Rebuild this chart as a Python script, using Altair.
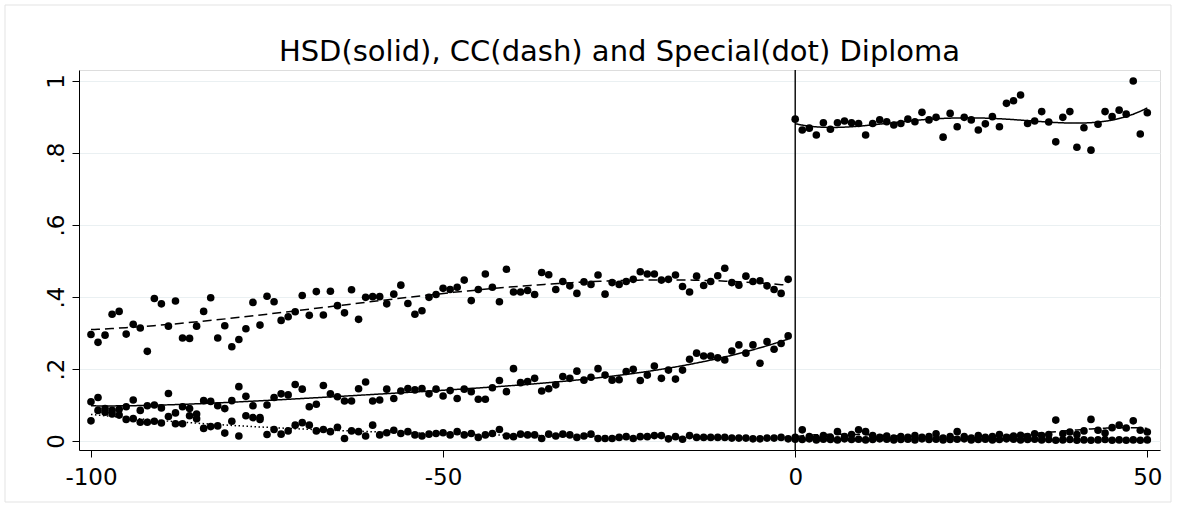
import altair as alt
import pandas as pd

# Running variable: left of the cutoff (-100..-1) and right of it (0..50)
x_left = list(range(-100, 0))
x_right = list(range(0, 51))

# Share with a high-school diploma (solid fit)
hsd_left = [
    0.109, 0.121, 0.090, 0.085, 0.088, 0.095, 0.114, 0.085, 0.098, 0.100,
    0.092, 0.132, 0.078, 0.095, 0.090, 0.075, 0.112, 0.110, 0.098, 0.090,
    0.112, 0.151, 0.124, 0.098, 0.065, 0.100, 0.121, 0.131, 0.128, 0.157,
    0.144, 0.095, 0.102, 0.154, 0.131, 0.123, 0.111, 0.111, 0.145, 0.164,
    0.111, 0.114, 0.144, 0.118, 0.139, 0.146, 0.142, 0.146, 0.131, 0.144,
    0.125, 0.140, 0.118, 0.144, 0.137, 0.116, 0.116, 0.148, 0.168, 0.137,
    0.201, 0.162, 0.165, 0.174, 0.139, 0.145, 0.156, 0.179, 0.174, 0.194,
    0.169, 0.177, 0.201, 0.183, 0.169, 0.170, 0.193, 0.199, 0.168, 0.183,
    0.208, 0.174, 0.197, 0.172, 0.197, 0.227, 0.244, 0.236, 0.236, 0.231,
    0.225, 0.250, 0.267, 0.244, 0.267, 0.216, 0.276, 0.255, 0.271, 0.292,
]
hsd_right = [
    0.894, 0.864, 0.869, 0.850, 0.884, 0.866, 0.884, 0.889, 0.884, 0.882,
    0.850, 0.882, 0.892, 0.887, 0.878, 0.882, 0.894, 0.887, 0.913, 0.892,
    0.899, 0.844, 0.910, 0.873, 0.899, 0.892, 0.864, 0.881, 0.901, 0.873,
    0.938, 0.945, 0.961, 0.882, 0.889, 0.915, 0.886, 0.831, 0.899, 0.915,
    0.816, 0.870, 0.808, 0.880, 0.915, 0.901, 0.919, 0.908, 1.000, 0.853,
    0.912,
]

# Share with a CC diploma (dashed fit)
cc_left = [
    0.296, 0.274, 0.294, 0.352, 0.360, 0.297, 0.324, 0.314, 0.249, 0.396,
    0.381, 0.319, 0.389, 0.286, 0.285, 0.319, 0.360, 0.398, 0.286, 0.320,
    0.262, 0.282, 0.312, 0.385, 0.322, 0.402, 0.387, 0.335, 0.345, 0.359,
    0.404, 0.349, 0.415, 0.350, 0.416, 0.376, 0.356, 0.420, 0.338, 0.399,
    0.401, 0.401, 0.381, 0.408, 0.433, 0.382, 0.352, 0.362, 0.399, 0.407,
    0.424, 0.421, 0.427, 0.447, 0.390, 0.421, 0.464, 0.427, 0.387, 0.477,
    0.414, 0.414, 0.418, 0.407, 0.468, 0.462, 0.421, 0.443, 0.431, 0.410,
    0.442, 0.435, 0.461, 0.408, 0.440, 0.435, 0.443, 0.449, 0.470, 0.464,
    0.464, 0.447, 0.449, 0.461, 0.429, 0.414, 0.458, 0.432, 0.443, 0.459,
    0.480, 0.440, 0.433, 0.458, 0.443, 0.445, 0.431, 0.421, 0.410, 0.449,
]
cc_right = [
    0.010, 0.031, 0.012, 0.008, 0.015, 0.010, 0.026, 0.012, 0.018, 0.031,
    0.026, 0.015, 0.010, 0.014, 0.008, 0.012, 0.010, 0.015, 0.010, 0.012,
    0.020, 0.008, 0.012, 0.026, 0.012, 0.008, 0.015, 0.010, 0.012, 0.018,
    0.010, 0.014, 0.016, 0.012, 0.020, 0.015, 0.018, 0.058, 0.020, 0.025,
    0.018, 0.028, 0.060, 0.030, 0.022, 0.037, 0.044, 0.036, 0.056, 0.030,
    0.025,
]

# Share with a special diploma (dotted fit)
special_left = [
    0.056, 0.085, 0.080, 0.075, 0.072, 0.060, 0.062, 0.052, 0.052, 0.055,
    0.050, 0.068, 0.048, 0.048, 0.070, 0.062, 0.035, 0.040, 0.042, 0.022,
    0.055, 0.014, 0.070, 0.065, 0.060, 0.018, 0.032, 0.019, 0.028, 0.044,
    0.051, 0.044, 0.028, 0.032, 0.026, 0.038, 0.007, 0.028, 0.026, 0.014,
    0.044, 0.017, 0.023, 0.030, 0.021, 0.026, 0.017, 0.014, 0.019, 0.021,
    0.023, 0.017, 0.026, 0.017, 0.021, 0.010, 0.017, 0.021, 0.032, 0.014,
    0.012, 0.019, 0.017, 0.017, 0.007, 0.019, 0.014, 0.019, 0.017, 0.010,
    0.014, 0.019, 0.007, 0.007, 0.007, 0.010, 0.012, 0.007, 0.012, 0.012,
    0.015, 0.015, 0.006, 0.012, 0.005, 0.015, 0.010, 0.010, 0.010, 0.010,
    0.010, 0.008, 0.008, 0.008, 0.006, 0.006, 0.008, 0.008, 0.010, 0.006,
]
special_right = [
    0.005, 0.004, 0.006, 0.003, 0.005, 0.004, 0.003, 0.006, 0.004, 0.005,
    0.003, 0.004, 0.006, 0.005, 0.003, 0.004, 0.005, 0.003, 0.006, 0.004,
    0.005, 0.003, 0.004, 0.005, 0.006, 0.003, 0.004, 0.005, 0.003, 0.004,
    0.006, 0.005, 0.003, 0.004, 0.005, 0.003, 0.004, 0.002, 0.003, 0.004,
    0.002, 0.003, 0.002, 0.003, 0.004, 0.002, 0.003, 0.002, 0.003, 0.002,
    0.003,
]

x_ticks = [-100, -50, 0, 50]
y_ticks = [0, 0.2, 0.4, 0.6, 0.8, 1]
title_text = "HSD(solid), CC(dash) and Special(dot) Diploma"
cutoff_x = 0

frames = []
for name, left, right in [
    ("HSD", hsd_left, hsd_right),
    ("CC", cc_left, cc_right),
    ("Special", special_left, special_right),
]:
    frames.append(pd.DataFrame({"x": x_left, "y": left, "series": name, "side": "left"}))
    frames.append(pd.DataFrame({"x": x_right, "y": right, "series": name, "side": "right"}))
df = pd.concat(frames, ignore_index=True)

# one-row table for the single decorations (title, cutoff rule, outer frame)
single = pd.DataFrame({"title": [title_text], "cutoff": [cutoff_x]})

FONT = "DejaVu Sans"
PLOT_W, PLOT_H = 1081, 380
x_scale = alt.Scale(domain=[-101.7, 51.8], nice=False, zero=False)
y_scale = alt.Scale(domain=[-0.025, 1.0306], nice=False, zero=False)

base = alt.Chart(df)

points = base.mark_circle(size=58, color="black", opacity=1).encode(
    x=alt.X(
        "x:Q",
        scale=x_scale,
        title=None,
        axis=alt.Axis(
            values=x_ticks,
            grid=False,
            tickSize=7,
            labelPadding=9,
            labelFontSize=23,
            labelFont=FONT,
            labelColor="black",
            domainColor="black",
            tickColor="black",
            labelExpr="datum.value + ''",
        ),
    ),
    y=alt.Y(
        "y:Q",
        scale=y_scale,
        title=None,
        axis=alt.Axis(
            values=y_ticks,
            grid=True,
            gridColor="#EAF0F2",
            gridWidth=1,
            tickSize=7,
            labelAngle=270,
            labelAlign="center",
            labelBaseline="alphabetic",
            labelPadding=9,
            labelFontSize=23,
            labelFont=FONT,
            labelColor="black",
            domainColor="black",
            tickColor="black",
            labelExpr="replace(format(datum.value, '~g'), '0.', '.')",
        ),
    ),
)

# Fourth-order polynomial fit on each side of the cutoff
fits = (
    base.transform_regression(
        "x", "y", groupby=["series", "side"], method="poly", order=4
    )
    .mark_line(color="black", strokeWidth=1.5)
    .encode(
        x="x:Q",
        y="y:Q",
        detail="side:N",
        strokeDash=alt.StrokeDash(
            "series:N",
            scale=alt.Scale(
                domain=["HSD", "CC", "Special"],
                range=[[1, 0], [9, 5], [1.5, 2.5]],
            ),
            legend=None,
        ),
    )
)

deco = alt.Chart(single)

cutoff = deco.mark_rule(color="black", strokeWidth=1.4).encode(x="cutoff:Q")

frame = deco.mark_rect(fill=None, stroke="#E3E3E3", strokeWidth=1).encode(
    x=alt.value(-74), x2=alt.value(1092), y=alt.value(-65), y2=alt.value(432)
)

title = deco.mark_text(
    font=FONT,
    fontSize=29,
    color="black",
    align="center",
    baseline="alphabetic",
).encode(
    x=alt.value(PLOT_W / 2),
    y=alt.value(-9),
    text="title:N",
)

chart = (
    alt.layer(frame, points, fits, cutoff, title)
    .properties(
        width=PLOT_W,
        height=PLOT_H,
        autosize="none",
        padding={"left": 79, "top": 70, "right": 17, "bottom": 58},
    )
    .configure_view(stroke=None)
    .configure(background="white")
)

chart.save("out.html", embed_options={"renderer": "svg", "actions": False})
